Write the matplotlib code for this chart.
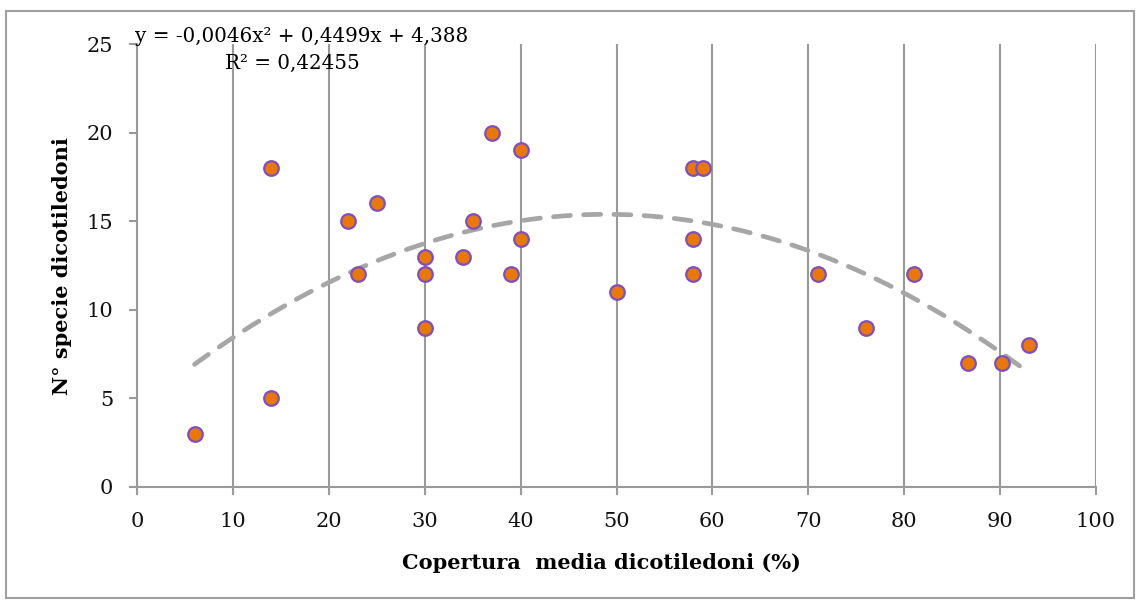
import numpy as np
import matplotlib
matplotlib.use("Agg")
import matplotlib.pyplot as plt
from matplotlib.patches import Rectangle

# ---- data ----
copertura = [6, 14, 14, 22, 23, 25, 30, 30, 30, 34, 35, 37, 39, 40, 40,
             50, 58, 59, 58, 58, 71, 76, 81, 86.7, 90.2, 93]
n_specie = [3, 18, 5, 15, 12, 16, 13, 12, 9, 13, 15, 20, 12, 19, 14,
            11, 18, 18, 14, 12, 12, 9, 12, 7, 7, 8]
trend_coef = [-0.0046, 0.4499, 4.388]
equation_text = "y = -0,0046x\u00b2 + 0,4499x + 4,388"
r2_text = "R\u00b2 = 0,42455"
x_ticks = list(range(0, 101, 10))
y_ticks = list(range(0, 26, 5))
x_label = "Copertura  media dicotiledoni (%)"
y_label = "N\u00b0 specie dicotiledoni"

FONT = "DejaVu Serif"
plt.rcParams['font.family'] = [FONT, 'DejaVu Sans']

W, H = 1140, 608
fig = plt.figure(figsize=(W / 100, H / 100), dpi=100)
fig.patch.set_facecolor('white')

# outer chart border
fig.patches.append(Rectangle((6 / W, 1 - 598 / H), (1134 - 6) / W, (598 - 11) / H,
                             transform=fig.transFigure, fill=False,
                             edgecolor='#a0a0a0', linewidth=1.5))

L, R, B, T = 137, 1096, 487, 44
ax = fig.add_axes([L / W, 1 - B / H, (R - L) / W, (B - T) / H])
ax.set_xlim(0, 100)
ax.set_ylim(0, 25)
ax.set_xticks(x_ticks)
ax.set_yticks(y_ticks)
grid_c = '#999999'
ax.xaxis.grid(True, color=grid_c, linewidth=1.5)
ax.set_axisbelow(True)
for s in ['top', 'right']:
    ax.spines[s].set_visible(False)
for s in ['left', 'bottom']:
    ax.spines[s].set_color(grid_c)
    ax.spines[s].set_linewidth(1.5)
ax.tick_params(axis='both', direction='out', length=6, width=1.5, color=grid_c,
               labelsize=15, labelcolor='#111111')
ax.tick_params(axis='y', pad=11)
ax.tick_params(axis='x', pad=12)

# trendline
xs = np.linspace(min(copertura), max(copertura), 300)
ys = np.polyval(trend_coef, xs)
ax.plot(xs, ys, color='#a6a6a6', linewidth=3.4, linestyle=(0, (3.6, 2.8)),
        dash_capstyle='round', zorder=2)

# points
ax.scatter(copertura, n_specie, s=110, facecolor='#e8780a', edgecolor='#7e4fbf',
           linewidth=1.6, zorder=3)

# texts
fig.text(135 / W, 1 - 37 / H, equation_text, fontsize=14.3, ha='left', va='center')
fig.text(292 / W, 1 - 63 / H, r2_text, fontsize=14.3, ha='center', va='center')
fig.text(601 / W, 1 - 563 / H, x_label, fontsize=15, fontweight='bold',
         ha='center', va='center')
fig.text(62 / W, 1 - 266 / H, y_label, fontsize=15, fontweight='bold',
         ha='center', va='center', rotation=90)

fig.savefig('out.png', dpi=100)
